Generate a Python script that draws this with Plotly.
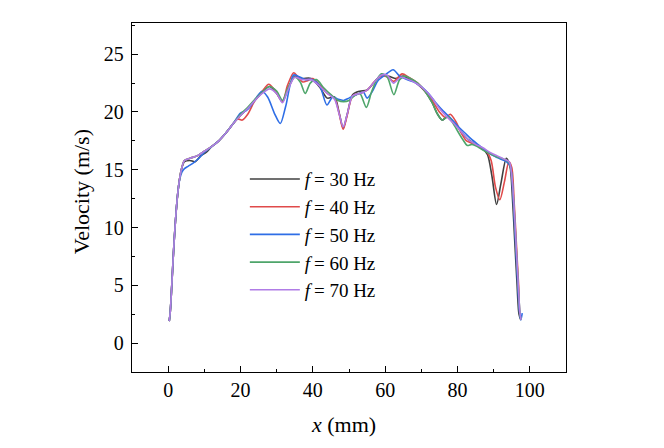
import plotly.graph_objects as go

labels = ["<i>f</i>\u2009= 30 Hz", "<i>f</i>\u2009= 40 Hz", "<i>f</i>\u2009= 50 Hz", "<i>f</i>\u2009= 60 Hz", "<i>f</i>\u2009= 70 Hz"]
colors = ["#404040", "#e04a4a", "#2e6ee6", "#4ea56a", "#b07ce6"]
x_title = "<i>x</i> (mm)"
y_title = "Velocity (m/s)"

x30 = [0.3,0.6,1.0,1.5,2.0,2.6,3.2,3.8,4.5,6,7.5,9,10.5,12,14,16,18,20,22,24,26,28,30,31.6,33,35,37,39.5,42,44,46,47.3,48.4,49.5,51,53,55,57,59,61,63,65,67,69,71,73,74.5,75.8,77.2,79,81,83,85,87,88.3,89.5,90.8,92,93.5,94.5,95.2,95.8,96.4,97,97.5]
y30 = [1.9,2.8,5.0,8.0,10.5,12.8,14.3,15.2,15.7,15.8,15.7,16.2,16.5,17.0,17.5,18.2,19.0,19.7,20.3,21.0,21.7,22.2,21.6,20.9,21.9,23.1,22.9,22.9,22.1,21.2,21.3,19.9,18.6,19.8,21.5,21.8,21.9,22.6,23.2,23.1,22.9,23.1,22.8,22.4,21.8,20.8,19.8,19.3,19.6,19.1,18.3,17.6,17.2,16.8,16.3,14.5,12.0,13.8,16.0,15.3,12.5,9.0,5.5,2.5,2.0]

x40 = [0.3,0.6,1.0,1.5,2.0,2.6,3.2,3.8,4.5,6,8,10,12,14,16,18,19.2,20.5,22,24,26,27.8,29.5,31.6,33,34.7,36,37.2,38.5,40,42,44,46,47.3,48.4,49.5,51,53,55,57,59,60.8,62.3,64.7,66.5,69,71,73,75,76.7,78,79.5,81,82.5,84,86,88,89.3,90.5,91.7,93,94.2,95,95.7,96.3,96.9,97.4,97.7]
y40 = [1.9,2.8,5.0,8.0,10.5,12.8,14.3,15.2,15.8,16.0,16.2,16.6,17.0,17.5,18.2,19.0,19.4,19.3,19.8,21.0,21.8,22.4,21.9,20.9,22.3,23.4,23.0,22.6,22.7,22.9,22.3,21.6,21.2,19.8,18.5,19.7,21.4,21.6,21.9,22.6,23.1,23.0,22.65,23.3,23.0,22.5,21.8,21.0,20.0,19.5,19.8,19.2,18.2,17.5,17.3,17.0,16.6,15.8,13.5,12.4,14.0,15.7,15.2,12.0,8.5,5.0,2.3,2.3]

x50 = [0.3,0.6,1.0,1.5,2.0,2.6,3.2,3.8,4.5,5.5,7,8.5,10,12,14,16,18,20,21.5,23,25.9,27.5,29.5,31,32.5,34.7,36.5,38,40,42,43.9,45.5,47,48.5,50,52,54,55,56.5,58,60,62.2,64,66,68,70,72,74,76,78,80,82,84,86,88,90,92,93.5,94.6,95.3,95.9,96.5,97.1,97.5,97.9]
y50 = [1.9,2.8,5.0,8.0,10.5,12.8,14.2,14.8,15.1,15.3,15.6,16.0,16.5,17.0,17.5,18.2,19.0,19.9,20.1,20.6,21.8,21.3,19.8,19.0,20.5,23.2,23.0,22.8,22.8,22.2,20.6,21.3,21.1,21.0,21.2,21.5,21.7,21.2,21.8,22.7,23.2,23.65,23.1,22.8,22.6,22.2,21.6,20.8,20.1,19.5,18.8,18.2,17.6,17.1,16.6,16.2,15.9,15.7,15.3,13.0,9.5,6.0,2.8,2.0,2.6]

x60 = [0.3,0.6,1.0,1.5,2.0,2.6,3.2,3.8,4.5,6,8,10,12,14,16,18,20,22,24,26,28,30,31.6,33,35,36.5,37.9,39.3,41,43,45,47,48.5,50,51.5,53,54.8,56.2,57.5,59,60.6,62.4,64,65.5,67,69,71,73,74.5,75.8,77.3,78.8,80.3,81.5,82.7,84,85.5,87,89,91,93,94.3,95,95.6,96.2,96.8,97.3,97.6]
y60 = [1.9,2.8,5.0,8.0,10.5,12.8,14.3,15.2,15.8,16.0,16.2,16.6,17.0,17.5,18.2,19.0,19.8,20.4,21.1,21.7,22.2,21.8,21.0,22.0,23.0,22.6,21.6,22.5,22.8,22.1,21.5,21.0,20.9,21.0,21.4,21.6,20.4,21.7,22.7,23.3,23.0,21.5,22.8,23.1,22.9,22.5,21.8,20.8,19.8,19.3,19.6,19.0,18.2,17.6,17.1,17.2,17.0,16.7,16.4,16.1,15.9,15.6,14.5,12.0,8.5,5.0,2.5,2.0]

x70 = [0.3,0.6,1.0,1.5,2.0,2.6,3.2,3.8,4.5,6,8,10,12,14,16,18,20,22,24,26,28,30,31.6,33,35,37,39.5,42,44,46,47.3,48.4,49.5,51,53,55,57,59,60.5,62.3,64.3,66.5,69,71,73,75,77,79,81,83,85,87,89,91,93,94.3,95,95.6,96.2,96.8,97.3,97.6]
y70 = [1.9,2.8,5.0,8.0,10.5,12.8,14.3,15.2,15.8,16.0,16.2,16.6,17.0,17.5,18.2,19.0,19.7,20.3,21.0,21.6,22.0,21.6,20.8,21.8,23.0,22.8,22.8,22.2,21.6,21.1,19.8,18.7,19.8,21.4,21.6,21.9,22.6,23.2,23.2,22.5,23.0,22.8,22.4,21.9,21.2,20.3,19.6,19.0,18.3,17.6,17.2,16.9,16.5,16.2,15.9,15.7,14.5,12.0,8.5,5.0,2.5,2.0]

xs = [x30, x40, x50, x60, x70]
ys = [y30, y40, y50, y60, y70]

fig = go.Figure()
for xv, yv, name, c in zip(xs, ys, labels, colors):
    fig.add_trace(go.Scatter(x=xv, y=yv, mode="lines", name=name,
                             line=dict(color=c, width=1.6, shape="spline", smoothing=0.8)))

font_family = "Liberation Serif"
axis_common = dict(showline=True, linecolor="black", linewidth=1.3, mirror=True,
                   ticks="inside", ticklen=6, tickwidth=1.2, tickcolor="black",
                   showgrid=False, zeroline=False,
                   tickfont=dict(family=font_family, size=20, color="black"))

fig.update_layout(
    width=664, height=448,
    margin=dict(l=124, r=106, t=15, b=84),
    paper_bgcolor="white", plot_bgcolor="white",
    font=dict(family=font_family, color="black"),
    showlegend=True,
    legend=dict(x=0.26, y=0.607, xanchor="left", yanchor="top",
                bgcolor="rgba(0,0,0,0)", borderwidth=0,
                font=dict(family=font_family, size=19, color="black"),
                itemwidth=50, tracegroupgap=0),
    xaxis=dict(range=[-10, 110], tickvals=[0, 20, 40, 60, 80, 100],
               minor=dict(dtick=10, tick0=0, ticks="inside", ticklen=3, tickcolor="black"),
               **axis_common),
    yaxis=dict(range=[-2.5, 27.7], tickvals=[0, 5, 10, 15, 20, 25],
               minor=dict(dtick=2.5, tick0=0, ticks="inside", ticklen=3, tickcolor="black"),
               ticklabelstandoff=3,
               **axis_common),
    annotations=[
        dict(text=x_title, xref="paper", yref="paper", x=0.487, y=0, yshift=-52,
             xanchor="center", yanchor="middle", showarrow=False,
             font=dict(family=font_family, size=22, color="black")),
        dict(text=y_title, xref="paper", yref="paper", x=0, y=0.515, xshift=-51,
             xanchor="center", yanchor="middle", textangle=-90, showarrow=False,
             font=dict(family=font_family, size=22, color="black")),
    ],
)

fig.write_html("out.html")
